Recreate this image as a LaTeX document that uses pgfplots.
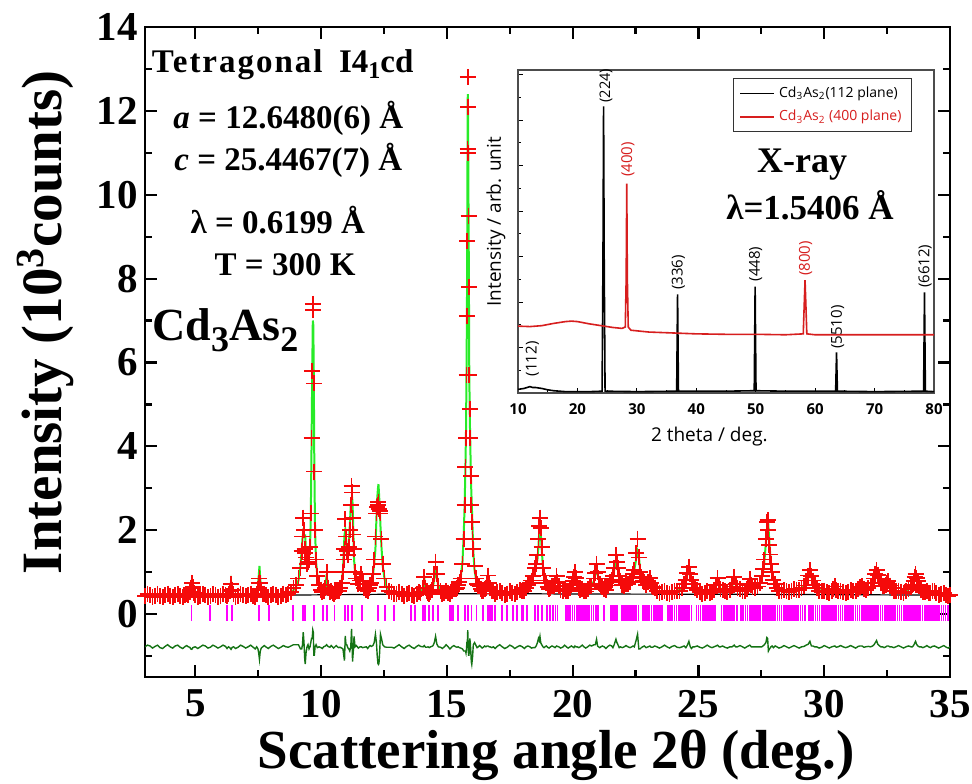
\documentclass[border=0pt]{standalone}
\usepackage{fontspec}
\setmainfont{Liberation Serif}
\newfontfamily\insetfont{Open Sans}
\usepackage{pgfplots}
\usepackage{pgfplotstable}
\pgfplotsset{compat=1.18}
\definecolor{obsred}{RGB}{245,10,10}
\definecolor{calcgreen}{RGB}{40,235,40}
\definecolor{diffgreen}{RGB}{20,115,20}
\definecolor{braggmag}{RGB}{255,0,255}
\definecolor{insetred}{RGB}{215,30,30}

\pgfplotstableread{
x obs calc diff
3.0 0.43 0.43 -0.78
3.1 0.47 0.43 -0.74
3.2 0.45 0.43 -0.76
3.3 0.40 0.43 -0.81
3.4 0.44 0.43 -0.77
3.5 0.48 0.44 -0.74
3.6 0.42 0.44 -0.80
3.7 0.40 0.44 -0.82
3.8 0.45 0.44 -0.77
3.9 0.49 0.44 -0.73
4.0 0.44 0.44 -0.78
4.1 0.41 0.44 -0.81
4.2 0.46 0.44 -0.76
4.3 0.48 0.44 -0.74
4.4 0.43 0.44 -0.79
4.5 0.40 0.44 -0.82
4.6 0.45 0.44 -0.77
4.66 0.48 0.45 -0.75
4.72 0.46 0.46 -0.78
4.78 0.52 0.53 -0.79
4.82 0.62 0.67 -0.83
4.86 0.74 0.80 -0.84
4.90 0.64 0.66 -0.80
4.94 0.51 0.52 -0.79
5.00 0.46 0.46 -0.78
5.1 0.41 0.45 -0.82
5.2 0.44 0.44 -0.78
5.3 0.48 0.44 -0.74
5.4 0.46 0.44 -0.76
5.5 0.41 0.44 -0.81
5.6 0.43 0.44 -0.79
5.7 0.48 0.44 -0.74
5.8 0.45 0.44 -0.77
5.9 0.41 0.44 -0.81
6.0 0.44 0.44 -0.78
6.1 0.49 0.45 -0.74
6.2 0.46 0.45 -0.77
6.26 0.42 0.46 -0.82
6.32 0.47 0.47 -0.78
6.37 0.56 0.58 -0.80
6.42 0.72 0.78 -0.84
6.47 0.57 0.58 -0.79
6.52 0.47 0.47 -0.78
6.6 0.41 0.45 -0.82
6.7 0.44 0.45 -0.79
6.8 0.49 0.45 -0.74
6.9 0.46 0.45 -0.77
7.0 0.42 0.45 -0.81
7.1 0.45 0.45 -0.78
7.2 0.49 0.45 -0.74
7.3 0.44 0.45 -0.79
7.38 0.41 0.46 -0.83
7.44 0.48 0.48 -0.78
7.49 0.60 0.65 -0.83
7.52 0.75 0.90 -0.93
7.55 0.85 1.15 -1.08
7.58 0.74 0.85 -0.89
7.62 0.57 0.60 -0.81
7.68 0.47 0.47 -0.78
7.74 0.49 0.46 -0.75
7.8 0.45 0.45 -0.78
7.9 0.41 0.45 -0.82
8.0 0.46 0.45 -0.77
8.1 0.49 0.45 -0.74
8.2 0.45 0.45 -0.78
8.3 0.41 0.45 -0.82
8.4 0.44 0.45 -0.79
8.5 0.49 0.46 -0.75
8.6 0.46 0.46 -0.78
8.7 0.47 0.48 -0.79
8.8 0.52 0.50 -0.76
8.9 0.62 0.57 -0.73
9.0 0.70 0.65 -0.73
9.1 0.85 0.80 -0.73
9.18 1.10 1.15 -0.83
9.23 1.50 1.55 -0.83
9.26 1.85 1.80 -0.73
9.29 2.30 1.95 -0.43
9.32 2.00 1.90 -0.68
9.35 1.55 1.85 -1.08
9.37 1.45 1.86 -1.19
9.40 1.35 1.50 -0.93
9.44 1.20 1.20 -0.78
9.48 1.25 1.20 -0.73
9.52 1.30 1.35 -0.83
9.56 1.60 1.60 -0.78
9.59 2.40 2.30 -0.68
9.62 4.20 4.00 -0.58
9.645 5.80 5.60 -0.58
9.67 7.40 7.00 -0.38
9.69 7.25 6.90 -0.43
9.71 5.50 5.70 -0.98
9.73 3.40 3.60 -0.98
9.76 2.00 2.00 -0.78
9.80 1.30 1.25 -0.73
9.85 0.90 0.92 -0.80
9.92 0.70 0.70 -0.78
10.00 0.58 0.60 -0.80
10.05 0.53 0.57 -0.82
10.1 0.55 0.55 -0.78
10.17 0.62 0.60 -0.76
10.22 1.00 0.95 -0.73
10.27 0.63 0.62 -0.77
10.35 0.52 0.53 -0.79
10.40 0.55 0.52 -0.75
10.45 0.51 0.51 -0.78
10.50 0.48 0.51 -0.81
10.55 0.52 0.52 -0.78
10.60 0.56 0.53 -0.75
10.65 0.55 0.55 -0.78
10.70 0.56 0.58 -0.80
10.75 0.62 0.63 -0.79
10.82 0.75 0.78 -0.81
10.87 1.00 1.05 -0.83
10.90 1.30 1.50 -0.98
10.93 1.55 1.88 -1.11
10.96 2.26 2.00 -0.52
10.99 1.85 1.80 -0.73
11.02 1.50 1.45 -0.73
11.06 1.40 1.42 -0.80
11.10 1.60 1.65 -0.83
11.14 2.00 2.10 -0.88
11.18 2.60 2.60 -0.78
11.21 3.05 2.62 -0.35
11.23 2.90 2.80 -0.68
11.25 2.30 2.65 -1.13
11.28 1.90 2.00 -0.88
11.31 1.55 1.30 -0.53
11.35 1.00 1.00 -0.78
11.40 0.85 0.82 -0.75
11.48 0.72 0.75 -0.81
11.55 0.80 0.80 -0.78
11.60 0.95 0.95 -0.78
11.65 0.78 0.80 -0.80
11.72 0.62 0.63 -0.79
11.80 0.58 0.58 -0.78
11.85 0.55 0.59 -0.82
11.90 0.62 0.62 -0.78
11.95 0.70 0.67 -0.75
12.00 0.75 0.74 -0.77
12.06 0.95 0.92 -0.75
12.11 1.30 1.20 -0.68
12.16 1.85 1.55 -0.48
12.20 2.40 2.30 -0.68
12.23 2.55 2.75 -0.98
12.26 2.60 3.00 -1.18
12.28 2.68 3.10 -1.20
12.30 2.50 2.90 -1.18
12.33 2.45 2.55 -0.88
12.36 2.40 2.10 -0.48
12.40 1.80 1.60 -0.58
12.45 1.20 1.15 -0.73
12.52 0.85 0.85 -0.78
12.60 0.65 0.66 -0.79
12.70 0.56 0.57 -0.79
12.8 0.52 0.53 -0.79
12.9 0.47 0.50 -0.81
13.0 0.49 0.48 -0.77
13.1 0.52 0.47 -0.73
13.2 0.47 0.47 -0.78
13.3 0.43 0.47 -0.82
13.4 0.48 0.47 -0.77
13.5 0.51 0.47 -0.74
13.6 0.46 0.47 -0.79
13.7 0.43 0.47 -0.82
13.8 0.48 0.47 -0.77
13.88 0.52 0.48 -0.74
13.95 0.50 0.49 -0.77
14.05 0.62 0.62 -0.78
14.10 0.88 0.85 -0.75
14.15 0.62 0.63 -0.79
14.20 0.54 0.55 -0.79
14.25 0.50 0.50 -0.78
14.30 0.48 0.50 -0.80
14.35 0.52 0.52 -0.78
14.40 0.58 0.57 -0.77
14.45 0.68 0.65 -0.75
14.50 0.95 0.85 -0.68
14.55 1.25 1.00 -0.53
14.60 0.95 0.88 -0.71
14.66 0.68 0.68 -0.78
14.75 0.54 0.55 -0.79
14.82 0.48 0.52 -0.82
14.9 0.50 0.50 -0.78
14.97 0.55 0.50 -0.73
15.05 0.51 0.51 -0.78
15.12 0.48 0.53 -0.83
15.2 0.55 0.55 -0.78
15.28 0.60 0.57 -0.75
15.35 0.60 0.60 -0.78
15.40 0.63 0.64 -0.79
15.45 0.70 0.70 -0.78
15.50 0.76 0.78 -0.80
15.55 0.85 0.88 -0.81
15.62 1.20 1.25 -0.83
15.67 1.80 1.90 -0.88
15.71 2.60 2.70 -0.88
15.74 3.50 3.60 -0.88
15.76 4.20 4.35 -0.93
15.78 5.70 5.75 -0.83
15.795 7.10 7.00 -0.68
15.81 8.90 8.80 -0.68
15.82 11.10 10.90 -0.58
15.83 12.80 12.40 -0.38
15.84 12.10 12.00 -0.68
15.85 11.00 11.00 -0.78
15.86 9.50 9.70 -0.98
15.875 7.80 8.00 -0.98
15.89 5.70 5.80 -0.88
15.91 4.90 4.70 -0.58
15.93 4.20 4.10 -0.68
15.95 3.30 3.40 -0.88
15.97 2.60 2.95 -1.13
15.99 2.20 2.62 -1.20
16.02 1.80 2.05 -1.03
16.05 1.55 1.50 -0.73
16.10 1.15 1.05 -0.68
16.16 0.85 0.82 -0.75
16.20 0.72 0.74 -0.80
16.25 0.68 0.68 -0.78
16.30 0.66 0.63 -0.75
16.35 0.60 0.60 -0.78
16.40 0.55 0.58 -0.81
16.45 0.56 0.57 -0.79
16.50 0.60 0.58 -0.76
16.55 0.62 0.62 -0.78
16.60 0.74 0.72 -0.76
16.64 0.92 0.90 -0.76
16.68 0.74 0.74 -0.78
16.72 0.62 0.62 -0.78
16.78 0.55 0.57 -0.80
16.85 0.54 0.54 -0.78
16.92 0.49 0.53 -0.82
17.0 0.52 0.51 -0.77
17.1 0.55 0.50 -0.73
17.2 0.50 0.50 -0.78
17.3 0.46 0.50 -0.82
17.4 0.49 0.50 -0.79
17.5 0.54 0.50 -0.74
17.6 0.51 0.50 -0.77
17.7 0.47 0.51 -0.82
17.8 0.52 0.52 -0.78
17.9 0.57 0.54 -0.75
18.0 0.56 0.56 -0.78
18.08 0.55 0.59 -0.82
18.15 0.62 0.62 -0.78
18.22 0.70 0.68 -0.76
18.30 0.75 0.75 -0.78
18.36 0.80 0.83 -0.81
18.42 0.90 0.92 -0.80
18.50 1.10 1.12 -0.80
18.55 1.20 1.18 -0.76
18.60 1.40 1.30 -0.68
18.64 1.80 1.60 -0.58
18.67 2.10 1.95 -0.63
18.70 2.30 2.05 -0.53
18.73 2.05 1.95 -0.68
18.77 1.60 1.55 -0.73
18.82 1.10 1.10 -0.78
18.86 0.92 0.94 -0.80
18.90 0.80 0.80 -0.78
18.95 0.74 0.72 -0.76
19.00 0.65 0.66 -0.79
19.06 0.60 0.63 -0.81
19.12 0.62 0.62 -0.78
19.18 0.66 0.64 -0.76
19.25 0.68 0.68 -0.78
19.30 0.74 0.76 -0.80
19.36 0.90 0.88 -0.76
19.40 0.77 0.76 -0.77
19.45 0.66 0.66 -0.78
19.52 0.57 0.60 -0.81
19.60 0.56 0.57 -0.79
19.68 0.60 0.56 -0.74
19.75 0.56 0.56 -0.78
19.82 0.55 0.58 -0.81
19.90 0.62 0.62 -0.78
19.95 0.70 0.68 -0.76
20.00 0.78 0.78 -0.78
20.05 0.88 0.90 -0.80
20.09 1.00 0.98 -0.76
20.13 0.86 0.86 -0.78
20.18 0.72 0.72 -0.78
20.24 0.62 0.64 -0.80
20.30 0.58 0.58 -0.78
20.38 0.60 0.56 -0.74
20.45 0.56 0.56 -0.78
20.52 0.54 0.57 -0.81
20.60 0.60 0.60 -0.78
20.68 0.66 0.62 -0.74
20.75 0.68 0.66 -0.76
20.85 0.85 0.80 -0.73
20.90 0.98 0.93 -0.73
20.95 1.20 1.02 -0.60
20.99 1.00 0.98 -0.76
21.03 0.85 0.85 -0.78
21.08 0.72 0.74 -0.80
21.12 0.66 0.66 -0.78
21.18 0.64 0.62 -0.76
21.25 0.60 0.60 -0.78
21.32 0.58 0.62 -0.82
21.40 0.68 0.67 -0.77
21.48 0.76 0.72 -0.74
21.55 0.82 0.80 -0.76
21.60 0.90 0.92 -0.80
21.65 1.10 1.05 -0.73
21.72 1.40 1.22 -0.60
21.76 1.25 1.15 -0.68
21.80 1.10 1.05 -0.73
21.85 0.90 0.92 -0.80
21.90 0.80 0.80 -0.78
21.97 0.70 0.72 -0.80
22.05 0.68 0.68 -0.78
22.12 0.72 0.69 -0.75
22.20 0.72 0.72 -0.78
22.28 0.76 0.78 -0.80
22.35 0.85 0.85 -0.78
22.40 0.95 0.93 -0.76
22.45 1.05 1.05 -0.78
22.52 1.45 1.30 -0.63
22.58 1.80 1.50 -0.48
22.63 1.35 1.40 -0.83
22.68 1.00 1.05 -0.83
22.73 0.88 0.90 -0.80
22.78 0.80 0.80 -0.78
22.85 0.76 0.74 -0.76
22.92 0.70 0.72 -0.80
23.00 0.76 0.76 -0.78
23.07 0.86 0.84 -0.76
23.12 0.74 0.75 -0.79
23.18 0.65 0.66 -0.79
23.26 0.62 0.60 -0.76
23.35 0.56 0.56 -0.78
23.45 0.51 0.54 -0.81
23.55 0.52 0.52 -0.78
23.65 0.55 0.51 -0.74
23.75 0.50 0.50 -0.78
23.85 0.48 0.51 -0.81
23.95 0.52 0.51 -0.77
24.05 0.56 0.53 -0.75
24.15 0.54 0.55 -0.79
24.25 0.56 0.58 -0.80
24.35 0.62 0.62 -0.78
24.43 0.72 0.70 -0.76
24.50 0.82 0.84 -0.80
24.56 0.98 0.94 -0.74
24.62 1.13 1.00 -0.65
24.67 0.96 0.95 -0.77
24.72 0.82 0.86 -0.82
24.78 0.72 0.72 -0.78
24.85 0.62 0.62 -0.78
24.95 0.58 0.56 -0.76
25.05 0.52 0.53 -0.79
25.15 0.48 0.51 -0.81
25.25 0.50 0.50 -0.78
25.35 0.54 0.50 -0.74
25.45 0.51 0.51 -0.78
25.54 0.52 0.54 -0.80
25.62 0.58 0.58 -0.78
25.70 0.70 0.68 -0.76
25.76 0.86 0.82 -0.74
25.82 0.70 0.70 -0.78
25.88 0.60 0.60 -0.78
25.96 0.58 0.56 -0.76
26.05 0.55 0.56 -0.79
26.15 0.52 0.55 -0.81
26.25 0.58 0.58 -0.78
26.34 0.66 0.66 -0.78
26.42 0.89 0.85 -0.74
26.48 0.72 0.72 -0.78
26.55 0.62 0.62 -0.78
26.65 0.60 0.57 -0.75
26.75 0.56 0.56 -0.78
26.84 0.55 0.58 -0.81
26.92 0.60 0.60 -0.78
26.98 0.68 0.66 -0.76
27.04 0.84 0.80 -0.74
27.10 0.70 0.70 -0.78
27.15 0.64 0.64 -0.78
27.25 0.62 0.62 -0.78
27.35 0.66 0.66 -0.78
27.44 0.74 0.74 -0.78
27.52 0.90 0.90 -0.78
27.58 1.08 1.05 -0.75
27.62 1.30 1.25 -0.73
27.68 1.80 1.70 -0.68
27.72 2.20 1.98 -0.56
27.75 2.25 2.05 -0.58
27.78 2.00 2.10 -0.88
27.82 1.65 1.70 -0.83
27.85 1.42 1.45 -0.81
27.88 1.20 1.20 -0.78
27.93 1.00 0.98 -0.76
27.98 0.82 0.84 -0.80
28.05 0.72 0.70 -0.76
28.12 0.62 0.62 -0.78
28.20 0.56 0.59 -0.81
28.30 0.55 0.56 -0.79
28.40 0.58 0.55 -0.75
28.50 0.54 0.54 -0.78
28.60 0.52 0.55 -0.81
28.70 0.56 0.56 -0.78
28.80 0.60 0.57 -0.75
28.90 0.58 0.58 -0.78
29.00 0.57 0.60 -0.81
29.10 0.62 0.62 -0.78
29.20 0.68 0.67 -0.77
29.28 0.80 0.76 -0.74
29.36 0.92 0.86 -0.72
29.43 1.05 0.92 -0.65
29.49 0.90 0.88 -0.76
29.55 0.80 0.78 -0.76
29.62 0.70 0.70 -0.78
29.70 0.62 0.62 -0.78
29.80 0.55 0.58 -0.81
29.90 0.54 0.55 -0.79
30.00 0.56 0.53 -0.75
30.10 0.52 0.52 -0.78
30.20 0.50 0.53 -0.81
30.30 0.55 0.55 -0.78
30.36 0.60 0.59 -0.77
30.42 0.66 0.64 -0.76
30.48 0.58 0.59 -0.79
30.55 0.54 0.54 -0.78
30.65 0.56 0.53 -0.75
30.75 0.52 0.52 -0.78
30.85 0.50 0.52 -0.80
30.95 0.53 0.53 -0.78
31.05 0.57 0.54 -0.75
31.15 0.55 0.55 -0.78
31.25 0.54 0.57 -0.81
31.35 0.60 0.59 -0.77
31.42 0.64 0.62 -0.76
31.50 0.66 0.64 -0.76
31.58 0.60 0.61 -0.79
31.65 0.58 0.58 -0.78
31.75 0.62 0.61 -0.77
31.85 0.66 0.66 -0.78
31.92 0.74 0.72 -0.76
31.98 0.85 0.80 -0.73
32.03 0.96 0.86 -0.68
32.08 1.05 0.90 -0.63
32.13 0.94 0.88 -0.72
32.18 0.85 0.82 -0.75
32.25 0.74 0.74 -0.78
32.32 0.68 0.68 -0.78
32.38 0.66 0.68 -0.80
32.45 0.70 0.70 -0.78
32.50 0.75 0.73 -0.76
32.55 0.78 0.76 -0.76
32.61 0.68 0.68 -0.78
32.68 0.62 0.62 -0.78
32.76 0.56 0.58 -0.80
32.85 0.55 0.55 -0.78
32.95 0.56 0.53 -0.75
33.05 0.52 0.52 -0.78
33.15 0.50 0.53 -0.81
33.25 0.54 0.54 -0.78
33.35 0.60 0.58 -0.76
33.45 0.64 0.64 -0.78
33.50 0.70 0.70 -0.78
33.55 0.78 0.75 -0.75
33.59 0.88 0.80 -0.70
33.63 0.95 0.82 -0.65
33.67 0.86 0.80 -0.72
33.72 0.78 0.76 -0.76
33.78 0.66 0.66 -0.78
33.85 0.58 0.58 -0.78
33.92 0.53 0.55 -0.80
34.00 0.52 0.52 -0.78
34.08 0.54 0.51 -0.75
34.15 0.50 0.50 -0.78
34.22 0.50 0.52 -0.80
34.30 0.55 0.54 -0.77
34.38 0.54 0.52 -0.76
34.45 0.50 0.50 -0.78
34.55 0.46 0.49 -0.81
34.65 0.48 0.48 -0.78
34.75 0.50 0.47 -0.75
34.85 0.46 0.47 -0.79
34.93 0.43 0.46 -0.81
35.00 0.45 0.45 -0.78
}\rietveld

\begin{document}
\begin{tikzpicture}
\useasboundingbox (0,0) rectangle (486pt,391.5pt);
\begin{axis}[
  at={(72.5pt,53pt)}, anchor=south west,
  scale only axis, width=402.5pt, height=325pt,
  xmin=3, xmax=35, ymin=-1.5, ymax=14,
  xtick={5,10,...,35}, minor xtick={7.5,12.5,...,32.5},
  ytick={0,2,...,14}, minor ytick={-1,1,3,5,7,9,11,13},
  tick align=inside,
  major tick length=6pt, minor tick length=3.5pt,
  every tick/.style={black, line width=1.1pt},
  axis line style={line width=1.3pt},
  /pgf/number format/assume math mode=true,
  ticklabel style={font=\bfseries\fontsize{20.5}{24}\selectfont},
  xticklabel style={yshift=-3pt},
  xlabel={Scattering angle 2θ (deg.)},
  ylabel={Intensity (10\textsuperscript{3}counts)},
  label style={font=\bfseries\fontsize{27.5}{32}\selectfont},
  xlabel style={at={(axis description cs:0.5106,-0.12)}, anchor=center},
  ylabel style={at={(axis description cs:-0.124,0.546)}, anchor=center, font=\bfseries\fontsize{28.5}{32}\selectfont},
  clip=true,
]
\addplot[only marks, mark=+, mark size=4pt, obsred, mark options={line width=0.9pt}] table[x=x,y=obs]{\rietveld};
\addplot[calcgreen, line width=1pt] table[x=x,y=calc]{\rietveld};
\addplot[black, line width=0.6pt] coordinates {(3,0.43) (5,0.44) (8,0.45) (10,0.46) (12,0.47) (14,0.48) (16,0.485) (18,0.485) (20,0.48) (24,0.475) (28,0.47) (32,0.46) (35,0.45)};
\addplot[diffgreen, line width=0.7pt] table[x=x,y=diff]{\rietveld};
\addplot[braggmag, only marks, mark=|, mark size=4pt, mark options={line width=0.9pt}] coordinates {
(4.85,0.02) (5.58,0.02) (6.25,0.02) (6.45,0.02) (7.54,0.02) (7.94,0.02) (8.87,0.02) (9.29,0.02) (9.36,0.02) (9.72,0.02) (10.06,0.02) (10.22,0.02) (10.53,0.02) (10.95,0.02) (11.08,0.02) (11.24,0.02) (11.61,0.02) (12.27,0.02) (12.54,0.02) (12.90,0.02) (13.56,0.02) (13.73,0.02) (14.04,0.02) (14.13,0.02) (14.30,0.02) (14.46,0.02) (14.66,0.02) (15.12,0.02) (15.19,0.02) (15.25,0.02) (15.45,0.02) (15.72,0.02) (15.85,0.02) (15.98,0.02) (16.18,0.02) (16.45,0.02) (16.65,0.02) (16.71,0.02) (16.78,0.02) (16.91,0.02) (17.18,0.02) (17.38,0.02) (17.64,0.02) (17.78,0.02) (17.97,0.02) (18.04,0.02) (18.17,0.02) (18.50,0.02) (18.63,0.02) (18.77,0.02) (18.97,0.02)
(19.10,0.02) (19.23,0.02) (19.32,0.02) (19.40,0.02) (19.74,0.02) (19.82,0.02) (19.90,0.02) (19.99,0.02) (20.07,0.02) (20.16,0.02) (20.24,0.02) (20.33,0.02) (20.41,0.02) (20.50,0.02) (20.58,0.02) (20.66,0.02) (20.75,0.02) (20.83,0.02) (20.92,0.02) (21.00,0.02) (21.25,0.02) (21.52,0.02) (21.60,0.02) (21.68,0.02) (21.77,0.02) (21.95,0.02) (22.03,0.02) (22.12,0.02) (22.20,0.02) (22.28,0.02) (22.37,0.02) (22.45,0.02) (22.53,0.02) (22.62,0.02) (22.80,0.02) (22.88,0.02) (22.96,0.02) (23.05,0.02) (23.13,0.02) (23.22,0.02) (23.30,0.02) (23.38,0.02) (23.46,0.02) (23.55,0.02) (23.80,0.02) (23.88,0.02) (23.96,0.02) (24.05,0.02) (24.13,0.02) (24.22,0.02) (24.30,0.02) (24.38,0.02) (24.46,0.02) (24.55,0.02) (24.63,0.02) (24.72,0.02) (24.92,0.02) (25.00,0.02) (25.08,0.02) (25.17,0.02) (25.25,0.02) (25.34,0.02) (25.42,0.02) (25.50,0.02) (25.58,0.02) (25.67,0.02) (25.92,0.02) (26.00,0.02) (26.08,0.02) (26.17,0.02) (26.25,0.02) (26.33,0.02) (26.42,0.02) (26.52,0.02) (26.70,0.02) (26.78,0.02) (26.87,0.02) (26.95,0.02) (27.04,0.02) (27.12,0.02) (27.21,0.02) (27.29,0.02) (27.38,0.02) (27.46,0.02) (27.55,0.02) (27.63,0.02) (27.72,0.02) (27.80,0.02) (27.88,0.02) (27.97,0.02) (28.05,0.02) (28.14,0.02) (28.22,0.02) (28.30,0.02) (28.39,0.02) (28.47,0.02) (28.55,0.02) (28.64,0.02) (28.72,0.02) (28.80,0.02) (28.89,0.02) (28.97,0.02) (29.06,0.02) (29.14,0.02) (29.22,0.02) (29.40,0.02) (29.48,0.02) (29.56,0.02) (29.65,0.02) (29.73,0.02) (29.81,0.02) (29.90,0.02) (29.98,0.02) (30.07,0.02) (30.15,0.02) (30.23,0.02) (30.32,0.02) (30.40,0.02) (30.48,0.02) (30.57,0.02) (30.65,0.02) (30.73,0.02) (30.82,0.02) (30.90,0.02) (30.98,0.02) (31.07,0.02) (31.15,0.02) (31.24,0.02) (31.32,0.02) (31.40,0.02) (31.49,0.02) (31.57,0.02) (31.65,0.02) (31.74,0.02) (31.82,0.02) (31.90,0.02) (31.99,0.02) (32.07,0.02) (32.15,0.02) (32.24,0.02) (32.32,0.02) (32.41,0.02) (32.49,0.02) (32.57,0.02) (32.66,0.02) (32.74,0.02) (32.82,0.02) (32.91,0.02) (32.99,0.02) (33.07,0.02) (33.16,0.02) (33.24,0.02) (33.32,0.02) (33.41,0.02) (33.49,0.02) (33.57,0.02) (33.66,0.02) (33.74,0.02) (33.82,0.02) (33.91,0.02) (33.99,0.02) (34.07,0.02) (34.16,0.02) (34.24,0.02) (34.32,0.02) (34.41,0.02) (34.49,0.02) (34.57,0.02) (34.66,0.02) (34.74,0.02) (34.82,0.02) (34.91,0.02)
};
\node[font=\bfseries\fontsize{16.5}{19}\selectfont] at (axis description cs:0.171,0.9415) {{\addfontfeature{LetterSpace=6}Tetragonal}\ \ I4\raisebox{-0.4ex}{\fontsize{12}{12}\selectfont 1}cd};
\node[font=\bfseries\fontsize{16.5}{19}\selectfont] at (axis description cs:0.178,0.860) {\textit{a} = 12.6480(6) Å};
\node[font=\bfseries\fontsize{16.5}{19}\selectfont] at (axis description cs:0.178,0.795) {\textit{c} = 25.4467(7) Å};
\node[font=\bfseries\fontsize{16.5}{19}\selectfont] at (axis description cs:0.165,0.703) {λ = 0.6199 Å};
\node[font=\bfseries\fontsize{16.5}{19}\selectfont] at (axis description cs:0.174,0.635) {T = 300 K};
\node[font=\bfseries\fontsize{23}{26}\selectfont, anchor=base west, inner sep=0pt] at (axis description cs:0.0087,0.518) {Cd\raisebox{-0.55ex}{\fontsize{18}{18}\selectfont 3}As\raisebox{-0.55ex}{\fontsize{18}{18}\selectfont 2}};
\end{axis}

\begin{axis}[
  at={(259pt,195pt)}, anchor=south west,
  scale only axis, width=208pt, height=161.5pt,
  xmin=10, xmax=80, ymin=0, ymax=7.1,
  xtick={10,20,...,80}, minor xtick={15,25,...,75},
  ytick={0,1,...,7}, minor ytick={0.5,1.5,...,6.5},
  yticklabels={},
  xtick pos=bottom, ytick pos=left,
  tick align=inside,
  major tick length=2.5pt, minor tick length=1.5pt,
  axis line style={black!70, line width=0.6pt},
  every tick/.style={black, line width=0.5pt},
  clip mode=individual,
  /pgf/number format/assume math mode=true,
  ticklabel style={font=\insetfont\bfseries\fontsize{7.5}{9}\selectfont},
  xticklabel style={yshift=-2pt},
  xlabel={2 theta / deg.},
  ylabel={Intensity / arb. unit},
  label style={font=\insetfont\fontsize{9.5}{11}\selectfont},
  xlabel style={at={(axis description cs:0.46,-0.136)}, anchor=center},
  ylabel style={at={(axis description cs:-0.053,0.53)}, anchor=center},
  axis background/.style={fill=white},
  legend style={at={(axis description cs:0.947,0.975)}, anchor=north east,
    font=\insetfont\fontsize{7}{8.5}\selectfont, draw=black!80, line width=0.5pt,
    inner xsep=3pt, inner ysep=2pt, row sep=1pt},
  legend cell align=left,
  legend image code/.code={\draw[#1] (0pt,0pt) -- (17pt,0pt);},
]
\addplot[black, line width=0.8pt] coordinates {(10,0.08) (11,0.10) (12,0.14) (12.5,0.12) (13,0.12) (14,0.10) (15,0.07) (16,0.05) (18,0.03) (20,0.03) (22,0.03) (24.15,0.04) (24.3,3.0) (24.4,6.3) (24.5,3.0) (24.65,0.04) (30,0.03) (36.7,0.04) (36.85,2.17) (37.0,0.04) (45,0.04) (49.75,0.05) (49.9,2.34) (50.05,0.05) (55,0.04) (63.45,0.04) (63.6,0.89) (63.75,0.04) (70,0.03) (78.25,0.04) (78.4,2.21) (78.55,0.04) (80,0.03)};
\addlegendentry{Cd\textsubscript{3}As\textsubscript{2}(112 plane)}
\addplot[insetred, line width=0.8pt] coordinates {(10,1.47) (12,1.46) (14,1.48) (16,1.53) (18,1.57) (19,1.58) (20,1.57) (22,1.52) (24,1.48) (26,1.44) (27.5,1.42) (28.05,1.45) (28.2,2.5) (28.3,4.6) (28.4,2.5) (28.55,1.45) (29,1.38) (32,1.34) (36,1.32) (40,1.30) (45,1.29) (50,1.29) (55,1.28) (58.0,1.30) (58.15,1.9) (58.3,2.48) (58.45,1.9) (58.6,1.30) (60,1.28) (70,1.28) (80,1.28)};
\addlegendentry{\textcolor{insetred}{Cd\textsubscript{3}As\textsubscript{2} (400 plane)}}
\node[rotate=90, anchor=west, inner sep=1pt, font=\insetfont\fontsize{7.3}{9}\selectfont] at (axis cs:24.8,6.33) {(224)};
\node[rotate=90, anchor=west, inner sep=1pt, text=insetred, font=\insetfont\fontsize{7.5}{9}\selectfont] at (axis cs:28.5,4.7) {(400)};
\node[rotate=90, anchor=west, inner sep=1pt, font=\insetfont\fontsize{7.5}{9}\selectfont] at (axis cs:37.0,2.22) {(336)};
\node[rotate=90, anchor=west, inner sep=1pt, font=\insetfont\fontsize{7.5}{9}\selectfont] at (axis cs:50.0,2.40) {(448)};
\node[rotate=90, anchor=west, inner sep=1pt, text=insetred, font=\insetfont\fontsize{7.5}{9}\selectfont] at (axis cs:58.4,2.52) {(800)};
\node[rotate=90, anchor=west, inner sep=1pt, font=\insetfont\fontsize{7.5}{9}\selectfont] at (axis cs:63.8,0.92) {(5510)};
\node[rotate=90, anchor=west, inner sep=1pt, font=\insetfont\fontsize{7.5}{9}\selectfont] at (axis cs:78.5,2.26) {(6612)};
\node[rotate=90, anchor=west, inner sep=1pt, font=\insetfont\fontsize{7.5}{9}\selectfont] at (axis cs:12.4,0.32) {(112)};
\node[font=\bfseries\fontsize{18}{20}\selectfont] at (axis description cs:0.683,0.706) {X-ray};
\node[font=\bfseries\fontsize{17.5}{20}\selectfont] at (axis description cs:0.702,0.582) {λ=1.5406 Å};
\end{axis}
\end{tikzpicture}
\end{document}
